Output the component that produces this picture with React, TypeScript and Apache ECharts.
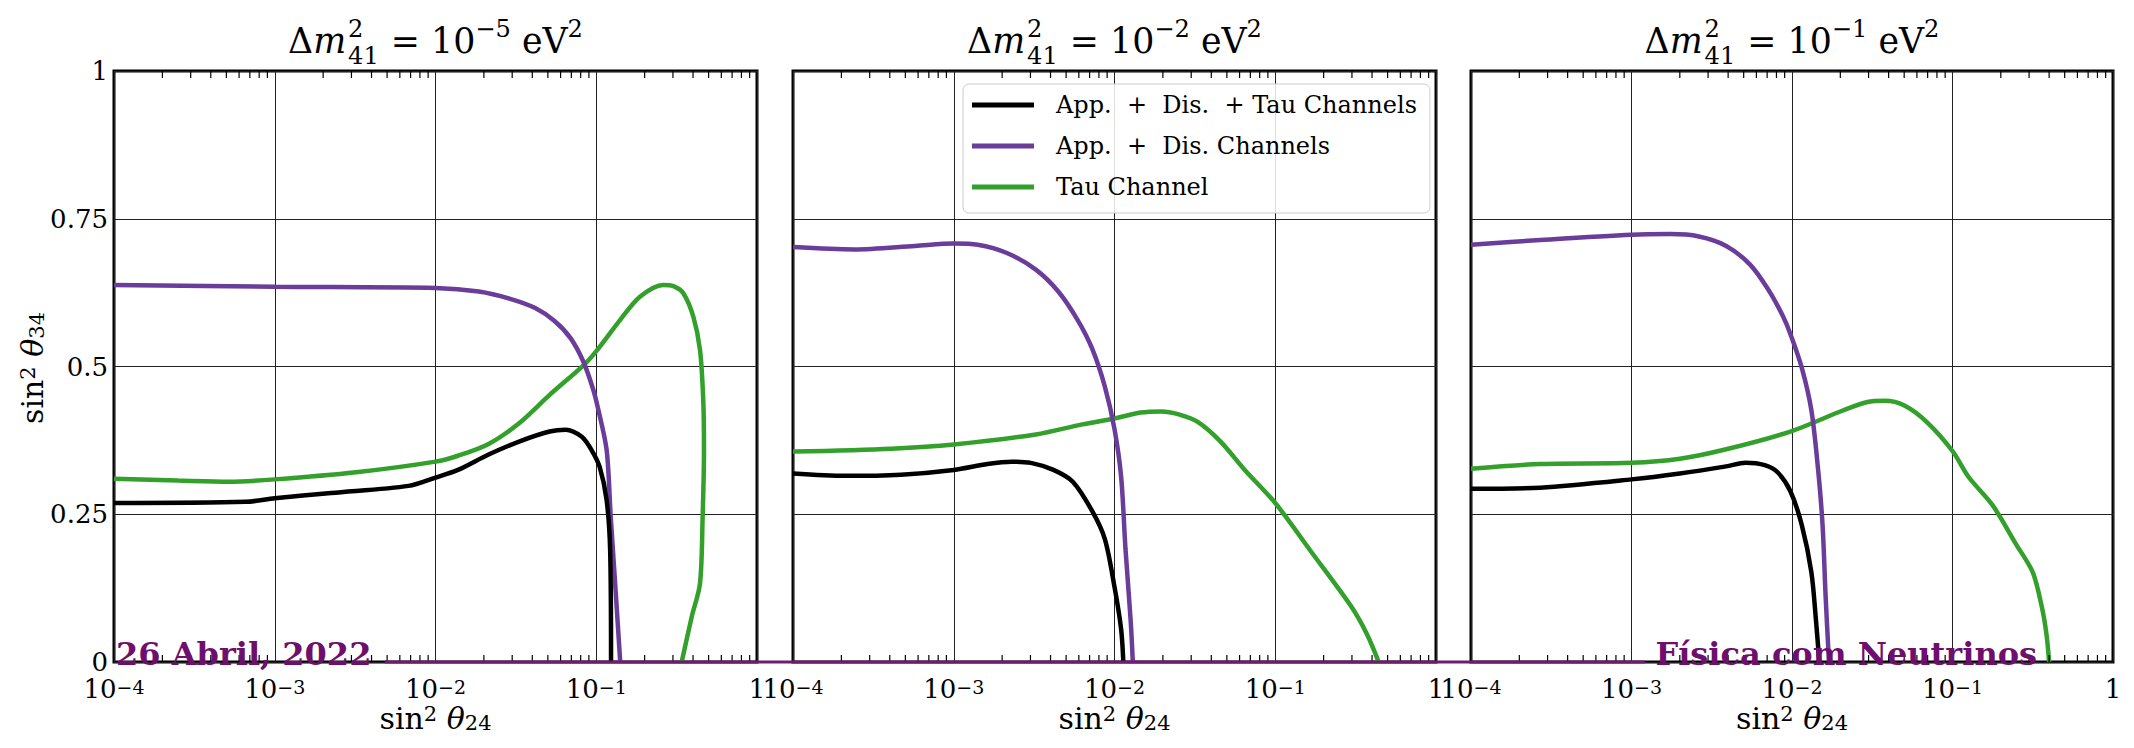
import React, { useEffect, useRef } from 'react';
import * as echarts from 'echarts';

const W = 2134;
const H = 748;
const SERIF = 'DejaVu Serif';
const WM_FONT = 'DejaVu Serif';

// ---------- labels ----------
const seriesNames = ['App.  +  Dis.  + Tau Channels', 'App.  +  Dis. Channels', 'Tau Channel'];
const seriesColors = ['#000000', '#6a3d9a', '#33a02c'];
const titleExponents = ['−5', '−2', '−1'];
const yTickLabels = ['0', '0.25', '0.5', '0.75', '1'];
const dateText = '26 Abril, 2022';
const brandText = 'Física com Neutrinos';
const minorMultipliers = [2, 3, 4, 5, 6, 7, 8, 9];
const decades = [1e-4, 1e-3, 1e-2, 1e-1];

// ---------- data: panel 1 (Δm² = 1e-5 eV²) ----------
const p1AllX = [1e-4, 6.6e-4, 1e-3, 2.24e-3, 6.8e-3, 1e-2, 1.38e-2, 2.14e-2, 3.31e-2, 5.13e-2, 6.46e-2, 8.13e-2, 9.33e-2, 0.105, 0.116, 0.122, 0.1236];
const p1AllY = [0.269, 0.271, 0.277, 0.286, 0.298, 0.312, 0.325, 0.351, 0.373, 0.39, 0.393, 0.381, 0.359, 0.33, 0.274, 0.19, 0];
const p1AppDisX = [1e-4, 1e-3, 1e-2, 1.86e-2, 2.88e-2, 4.17e-2, 5.5e-2, 6.92e-2, 8.32e-2, 9.55e-2, 0.102, 0.116, 0.123, 0.131, 0.141];
const p1AppDisY = [0.638, 0.635, 0.633, 0.627, 0.615, 0.599, 0.577, 0.548, 0.508, 0.462, 0.432, 0.359, 0.246, 0.134, 0];
const p1TauX = [1e-4, 2.5e-4, 5.2e-4, 1e-3, 3.2e-3, 1e-2, 1.38e-2, 2.14e-2, 3.31e-2, 5.13e-2, 8.32e-2, 0.1007, 0.141, 0.187, 0.261, 0.302, 0.348, 0.402, 0.442, 0.463, 0.468, 0.459, 0.442, 0.393, 0.34];
const p1TauY = [0.31, 0.307, 0.305, 0.309, 0.321, 0.339, 0.349, 0.369, 0.404, 0.452, 0.502, 0.527, 0.579, 0.618, 0.638, 0.636, 0.624, 0.584, 0.528, 0.443, 0.359, 0.246, 0.133, 0.077, 0];

// ---------- data: panel 2 (Δm² = 1e-2 eV²) ----------
const p2AllX = [1e-4, 2.1e-4, 4.7e-4, 1e-3, 1.62e-3, 2.29e-3, 3.02e-3, 4.17e-3, 5.5e-3, 7.24e-3, 8.71e-3, 1e-2, 1.1e-2, 1.135e-2];
const p2AllY = [0.319, 0.315, 0.317, 0.325, 0.335, 0.339, 0.337, 0.325, 0.305, 0.256, 0.208, 0.127, 0.055, 0];
const p2AppDisX = [1e-4, 2.4e-4, 5.75e-4, 1e-3, 1.41e-3, 2.14e-3, 3.24e-3, 4.47e-3, 5.89e-3, 7.24e-3, 8.71e-3, 1e-2, 1.1e-2, 1.17e-2, 1.26e-2, 1.3e-2];
const p2AppDisY = [0.702, 0.698, 0.704, 0.708, 0.706, 0.692, 0.664, 0.627, 0.579, 0.531, 0.466, 0.394, 0.313, 0.192, 0.071, 0];
const p2TauX = [1e-4, 4.1e-4, 1e-3, 3.24e-3, 6.3e-3, 1e-2, 1.45e-2, 1.95e-2, 2.51e-2, 3.31e-2, 4.57e-2, 6.46e-2, 0.1, 0.17, 0.295, 0.372, 0.44];
const p2TauY = [0.356, 0.361, 0.368, 0.385, 0.402, 0.412, 0.422, 0.424, 0.419, 0.406, 0.373, 0.325, 0.269, 0.184, 0.095, 0.047, 0];

// ---------- data: panel 3 (Δm² = 1e-1 eV²) ----------
const p3AllX = [1e-4, 2.7e-4, 1e-3, 2e-3, 3.89e-3, 5.13e-3, 6.76e-3, 8.13e-3, 9.77e-3, 1.15e-2, 1.32e-2, 1.41e-2, 1.48e-2];
const p3AllY = [0.293, 0.295, 0.309, 0.319, 0.331, 0.337, 0.333, 0.321, 0.289, 0.232, 0.152, 0.071, 0];
const p3AppDisX = [1e-4, 2.7e-4, 1e-3, 1.74e-3, 2.63e-3, 3.89e-3, 5.5e-3, 7.08e-3, 8.71e-3, 9.77e-3, 1.15e-2, 1.32e-2, 1.45e-2, 1.55e-2, 1.62e-2, 1.7e-2];
const p3AppDisY = [0.706, 0.714, 0.723, 0.724, 0.72, 0.704, 0.672, 0.631, 0.587, 0.555, 0.498, 0.426, 0.329, 0.232, 0.111, 0];
const p3TauX = [1e-4, 2.7e-4, 1e-3, 2e-3, 3.89e-3, 9.77e-3, 2.09e-2, 2.95e-2, 3.8e-2, 5.01e-2, 6.92e-2, 0.1, 0.126, 0.178, 0.248, 0.316, 0.359, 0.385, 0.4];
const p3TauY = [0.327, 0.335, 0.337, 0.344, 0.36, 0.39, 0.426, 0.44, 0.442, 0.434, 0.406, 0.357, 0.313, 0.265, 0.2, 0.152, 0.095, 0.047, 0];

const panelData = [
  [[p1AllX, p1AllY], [p1AppDisX, p1AppDisY], [p1TauX, p1TauY]],
  [[p2AllX, p2AllY], [p2AppDisX, p2AppDisY], [p2TauX, p2TauY]],
  [[p3AllX, p3AllY], [p3AppDisX, p3AppDisY], [p3TauX, p3TauY]],
];

// ---------- layout ----------
const GRID_LEFT = [114, 793, 1471];
const GRID_WIDTH = [643, 643, 642];
const GRID_TOP = 71;
const GRID_HEIGHT = 591;
const TITLE_WIDTH = 295;

function zip(xs: number[], ys: number[]) {
  return xs.map((x, i) => [x, ys[i]]);
}

let measureCtx: CanvasRenderingContext2D | null = null;
function measure(text: string, size: number, italic = false) {
  if (!measureCtx) measureCtx = document.createElement('canvas').getContext('2d');
  measureCtx!.font = `${italic ? 'italic ' : ''}${size}px '${SERIF}'`;
  return measureCtx!.measureText(text).width;
}

const CENTRAL = 0.346;

function titleElements(cx: number, baseline: number, exp: string) {
  type Piece = { text: string; size: number; italic?: boolean; dy: number; stackWith?: Piece };
  const build = (k: number): Piece[] => [
    { text: 'Δ', size: 36 * k, dy: 0 },
    { text: 'm', size: 36 * k, italic: true, dy: 0 },
    { text: '2', size: 25 * k, dy: -16, stackWith: { text: '41', size: 25 * k, dy: 11 } },
    { text: ' = 10', size: 36 * k, dy: 0 },
    { text: exp, size: 25 * k, dy: -16 },
    { text: ' eV', size: 36 * k, dy: 0 },
    { text: '2', size: 25 * k, dy: -16 },
  ];
  const widthsOf = (pieces: Piece[]) =>
    pieces.map((p) => {
      let w = measure(p.text, p.size, p.italic);
      if (p.stackWith) w = Math.max(w, measure(p.stackWith.text, p.stackWith.size)) + 2;
      if (p.italic) w += 1;
      return w;
    });
  const w0 = widthsOf(build(1)).reduce((a, b) => a + b, 0);
  const k = TITLE_WIDTH / w0;
  const pieces = build(k);
  const widths = widthsOf(pieces);
  const total = widths.reduce((a, b) => a + b, 0);
  let x = cx - total / 2;
  const els: any[] = [];
  pieces.forEach((p, i) => {
    const mk = (q: Piece, xx: number) => ({
      type: 'text',
      x: xx,
      y: baseline + q.dy - CENTRAL * q.size,
      silent: true,
      style: {
        text: q.text,
        fontSize: q.size,
        fontFamily: SERIF,
        fontStyle: q.italic ? 'italic' : 'normal',
        fill: '#000',
        align: 'left',
        verticalAlign: 'middle',
      },
    });
    els.push(mk(p, x + (p.stackWith ? 1 : 0)));
    if (p.stackWith) els.push(mk(p.stackWith, x + 1));
    x += widths[i];
  });
  return els;
}

const nameRich = {
  n: { fontSize: 30, fontFamily: SERIF, color: '#000', lineHeight: 30, verticalAlign: 'middle' },
  it: { fontSize: 30, fontFamily: SERIF, fontStyle: 'italic', color: '#000', lineHeight: 30, verticalAlign: 'middle' },
  sup: { fontSize: 21, fontFamily: SERIF, color: '#000', lineHeight: 10, verticalAlign: 'top' },
  sub: { fontSize: 21, fontFamily: SERIF, color: '#000', lineHeight: 6, verticalAlign: 'bottom' },
};

function axisNameText(id: string) {
  return `{n|sin}{sup|2}{n| }{it|θ}{sub|${id}}`;
}

export default function App() {
  const ref = useRef<HTMLDivElement>(null);
  useEffect(() => {
    if (!ref.current) return;
    const chart = echarts.init(ref.current, undefined, { renderer: 'svg' });

    const minorTicks: number[][] = [];
    decades.forEach((d) => minorMultipliers.forEach((m) => minorTicks.push([d * m, 0])));

    const grids = GRID_LEFT.map((left, i) => ({
      left,
      top: GRID_TOP,
      width: GRID_WIDTH[i],
      height: GRID_HEIGHT,
      show: true,
      borderColor: '#000',
      borderWidth: 3,
      backgroundColor: 'transparent',
      containLabel: false,
    }));

    const xAxes = GRID_LEFT.map((_, i) => ({
      type: 'log',
      gridIndex: i,
      logBase: 10,
      min: 1e-4,
      max: 1,
      interval: 1,
      axisLine: { show: false },
      axisTick: { show: false },
      splitLine: { show: true, lineStyle: { color: '#222', width: 1 } },
      minorTick: { show: false },
      axisLabel: {
        show: true,
        interval: 0,
        showMinLabel: true,
        showMaxLabel: true,
        hideOverlap: false,
        margin: 15,
        formatter: (v: number) => {
          const e = Math.round(Math.log10(v));
          if (e === 0) return '{n|1}';
          return `{n|10}{sup|−${-e}}`;
        },
        rich: {
          n: { fontSize: 26, fontFamily: SERIF, color: '#000', lineHeight: 24, verticalAlign: 'middle' },
          sup: { fontSize: 19, fontFamily: SERIF, color: '#000', lineHeight: 9, verticalAlign: 'top' },
        },
      },
    }));

    const yAxes = GRID_LEFT.map((_, i) => ({
      type: 'value',
      gridIndex: i,
      min: 0,
      max: 1,
      interval: 0.25,
      axisLine: { show: false },
      axisTick: { show: false },
      splitLine: { show: true, lineStyle: { color: '#222', width: 1 } },
      axisLabel: {
        show: i === 0,
        margin: 6,
        fontSize: 26,
        lineHeight: 22,
        fontFamily: SERIF,
        color: '#000',
        formatter: (v: number) => yTickLabels[Math.round(v / 0.25)],
      },
    }));

    const series: any[] = [];
    panelData.forEach((panel, gi) => {
      panel.forEach(([xs, ys], si) => {
        series.push({
          type: 'line',
          name: seriesNames[si],
          xAxisIndex: gi,
          yAxisIndex: gi,
          data: zip(xs, ys),
          showSymbol: false,
          symbol: 'none',
          smooth: 0.3,
          color: seriesColors[si],
          itemStyle: { color: seriesColors[si] },
          lineStyle: { color: seriesColors[si], width: 4.5 },
          z: 3 + (2 - si),
          silent: true,
        });
      });
      series.push({
        type: 'custom',
        name: 'ticks' + gi,
        xAxisIndex: gi,
        yAxisIndex: gi,
        silent: true,
        clip: false,
        z: 6,
        data: minorTicks,
        renderItem: (params: any, api: any) => {
          const x = api.value(0);
          const pb = api.coord([x, 0]);
          const pt = api.coord([x, 1]);
          return {
            type: 'group',
            children: [
              { type: 'line', shape: { x1: pb[0], y1: pb[1], x2: pb[0], y2: pb[1] - 7 }, style: { stroke: '#000', lineWidth: 1.2 } },
              { type: 'line', shape: { x1: pt[0], y1: pt[1], x2: pt[0], y2: pt[1] + 7 }, style: { stroke: '#000', lineWidth: 1.2 } },
            ],
          };
        },
      });
    });

    const graphics: any[] = [];
    GRID_LEFT.forEach((left, i) => {
      const cx = left + GRID_WIDTH[i] / 2;
      titleElements(cx, 53, titleExponents[i]).forEach((e) => graphics.push(e));
      graphics.push({
        type: 'text',
        x: cx,
        y: 718,
        silent: true,
        style: { text: axisNameText('24'), rich: nameRich, align: 'center', verticalAlign: 'middle' },
      });
    });
    graphics.push({
      type: 'text',
      x: 32,
      y: 368,
      rotation: Math.PI / 2,
      silent: true,
      style: { text: axisNameText('34'), rich: nameRich, align: 'center', verticalAlign: 'middle' },
    });
    graphics.push({
      type: 'line',
      silent: true,
      z: 10,
      shape: { x1: 385, y1: 662, x2: 1645, y2: 662 },
      style: { stroke: '#701a70', lineWidth: 3 },
    });
    graphics.push({
      type: 'text',
      x: 116,
      y: 670,
      silent: true,
      z: 11,
      style: { text: dateText, fontSize: 32, fontWeight: 'bold', fontFamily: WM_FONT, fill: '#6e0f6e', align: 'left', verticalAlign: 'bottom' },
    });
    graphics.push({
      type: 'text',
      x: 2037,
      y: 670,
      silent: true,
      z: 11,
      style: { text: brandText, fontSize: 32, fontWeight: 'bold', fontFamily: WM_FONT, fill: '#6e0f6e', align: 'right', verticalAlign: 'bottom' },
    });

    chart.setOption({
      animation: false,
      backgroundColor: '#fff',
      grid: grids,
      xAxis: xAxes,
      yAxis: yAxes,
      series,
      legend: {
        data: seriesNames,
        orient: 'vertical',
        left: 963,
        top: 84,
        icon: 'rect',
        itemWidth: 62,
        itemHeight: 5,
        itemGap: 11,
        padding: [6, 13, 11, 9],
        backgroundColor: 'rgba(255,255,255,0.85)',
        borderColor: '#cccccc',
        borderWidth: 1,
        borderRadius: 6,
        selectedMode: false,
        itemStyle: { borderWidth: 0 },
        textStyle: { fontFamily: SERIF, fontSize: 24, color: '#000', lineHeight: 30, padding: [0, 0, 0, 17] },
      },
      graphic: { elements: graphics },
    });

    return () => chart.dispose();
  }, []);

  return <div ref={ref} style={{ position: 'absolute', left: 0, top: 0, width: W, height: H }} />;
}
